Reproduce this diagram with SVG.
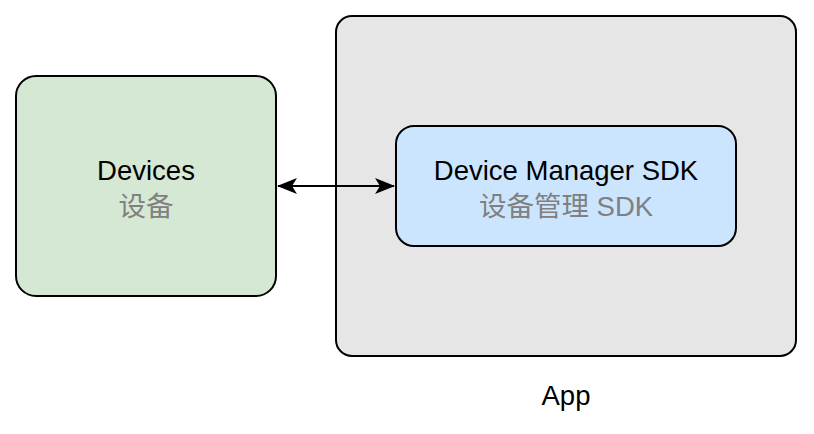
<svg xmlns="http://www.w3.org/2000/svg" width="814" height="434" viewBox="0 0 814 434">
<style>
.box{stroke:#000;stroke-width:2}
.t{font-family:"Liberation Sans","Noto Sans CJK SC",sans-serif;font-size:27.5px;text-anchor:middle;fill:#000}
.g{fill:#808080}
</style>
<defs>
<marker id="ah" viewBox="0 0 20 16" refX="19" refY="8" markerWidth="20" markerHeight="16" markerUnits="userSpaceOnUse" orient="auto-start-reverse">
<path d="M0,0 L20,8 L0,16 L5,8 Z" fill="#000"/>
</marker>
</defs>
<rect width="814" height="434" fill="#fff"/>
<g id="app">
<rect class="box" x="336" y="16" width="460" height="340" rx="16" fill="#e6e6e6"/>
<text class="t" x="566" y="405">App</text>
</g>
<g id="devices">
<rect class="box" x="16" y="76" width="260" height="220" rx="20" fill="#d5e8d4"/>
<text class="t" x="146" y="180">Devices</text>
<text class="t g" x="146" y="216">设备</text>
</g>
<g id="sdk">
<rect class="box" x="396" y="126" width="340" height="120" rx="18" fill="#cce5ff"/>
<text class="t" x="566" y="180">Device Manager SDK</text>
<text class="t g" x="566" y="216">设备管理 SDK</text>
</g>
<g id="connectors">
<line x1="278" y1="186" x2="394" y2="186" stroke="#000" stroke-width="2" marker-start="url(#ah)" marker-end="url(#ah)"/>
</g>
</svg>
